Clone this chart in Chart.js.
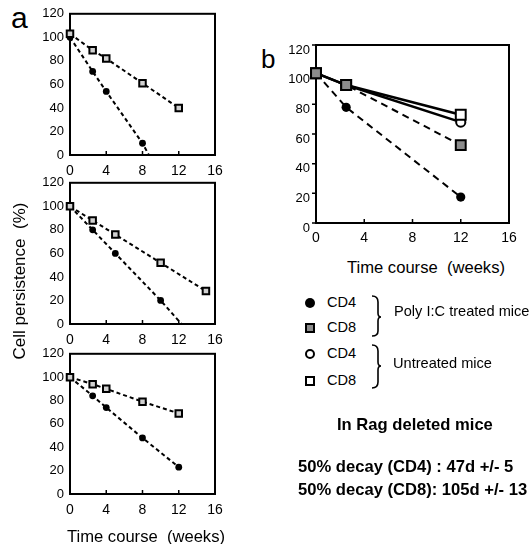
<!DOCTYPE html>
<html>
<head>
<meta charset="utf-8">
<script src="https://cdn.jsdelivr.net/npm/chart.js@4.4.1/dist/chart.umd.min.js"></script>
<style>
  body { margin: 0; background: #fff; width: 532px; height: 544px; position: relative; overflow: hidden;
         font-family: "Liberation Sans", Arial, sans-serif; color: #000; }
  canvas { position: absolute; }
  .t { position: absolute; white-space: nowrap; line-height: 1.2; transform: translateY(-50%); }
  .mk { position: absolute; box-sizing: border-box; width: 10px; height: 10px; transform: translate(-50%, -50%); }
</style>
</head>
<body>
<canvas id="a1" width="202" height="180" style="left:30px;top:0px"></canvas>
<canvas id="a2" width="202" height="180" style="left:30px;top:169px"></canvas>
<canvas id="a3" width="202" height="180" style="left:30px;top:340px"></canvas>
<canvas id="b" width="252" height="225" style="left:280px;top:30px"></canvas>

<div style="position:absolute;left:11px;top:3px;font-size:30px;line-height:1">a</div>
<div style="position:absolute;left:261px;top:46px;font-size:26px;line-height:1">b</div>

<div class="t" style="left:20px;top:281px;font-size:17px;transform:translate(-50%,-50%) rotate(-90deg)">Cell persistence&nbsp; (%)</div>
<div class="t" style="left:67px;top:537px;font-size:16.6px">Time course&nbsp; (weeks)</div>
<div class="t" style="left:347px;top:268px;font-size:16.6px">Time course&nbsp; (weeks)</div>

<!-- legend -->
<div class="mk" style="left:310px;top:303px;border-radius:50%;background:#000"></div>
<div class="mk" style="left:310px;top:328px;background:#8c8c8c;border:2px solid #000"></div>
<div class="mk" style="left:310px;top:354px;border-radius:50%;background:#fff;border:2px solid #000"></div>
<div class="mk" style="left:310px;top:381px;background:#fff;border:2px solid #000"></div>
<div class="t" style="left:327px;top:303px;font-size:14.6px">CD4</div>
<div class="t" style="left:327px;top:328px;font-size:14.6px">CD8</div>
<div class="t" style="left:327px;top:354px;font-size:14.6px">CD4</div>
<div class="t" style="left:327px;top:381px;font-size:14.6px">CD8</div>
<svg style="position:absolute;left:0;top:0" width="532" height="544">
  <path d="M372,296 Q378,296 378,302 L378,313 Q378,317 381,317 Q378,317 378,321 L378,331 Q378,336 372,336" fill="none" stroke="#000" stroke-width="1.6"/>
  <path d="M372,345 Q378,345 378,351 L378,362 Q378,366 381,366 Q378,366 378,370 L378,382 Q378,388 372,388" fill="none" stroke="#000" stroke-width="1.6"/>
</svg>
<div class="t" style="left:394px;top:312px;font-size:14.6px">Poly I:C treated mice</div>
<div class="t" style="left:393px;top:364px;font-size:14.6px">Untreated mice</div>

<div class="t" style="left:337px;top:425px;font-size:16.6px;font-weight:bold">In Rag deleted mice</div>
<div class="t" style="left:298px;top:467px;font-size:16.6px;font-weight:bold">50% decay (CD4) : 47d +/- 5</div>
<div class="t" style="left:298px;top:490px;font-size:16.6px;font-weight:bold">50% decay (CD8): 105d +/- 13</div>

<script>
// panel a, top: weeks and % persistence
const weeksA1 = [0, 2.5, 4, 8, 12];
const cd8A1 = [103, 89, 82, 61, 40];
const cd4WeeksA1 = [0, 2.5, 4, 8, 8.7];
const cd4A1 = [100, 71, 54, 10, 0];

// panel a, middle
const weeksA2 = [0, 2.5, 5, 10, 15];
const cd8A2 = [100, 88, 76, 52, 28];
const cd4WeeksA2 = [0, 2.5, 5, 10, 12.3];
const cd4A2 = [100, 80, 60, 20, 0];

// panel a, bottom
const weeksA3 = [0, 2.5, 4, 8, 12];
const cd8A3 = [100, 94, 90, 79, 69];
const cd4A3 = [100, 84, 74, 48, 23];

// panel b
const weeksB = [0, 2.5, 12];
const polyCD4 = [101, 78, 17.5];
const polyCD8 = [101, 93, 52.5];
const untrCD4 = [101, 93, 68];
const untrCD8 = [101, 93, 73];

const xTicks = [0, 4, 8, 12, 16];
const yTicks = [0, 20, 40, 60, 80, 100, 120];

const pts = (xs, ys) => xs.map((x, i) => ({ x, y: ys[i] }));
const FONT = '"Liberation Sans", Arial, sans-serif';

const frame = {
  id: 'frame',
  beforeDatasetsDraw(chart, args, o) {
    const { ctx, chartArea: a, scales } = chart;
    ctx.save();
    ctx.strokeStyle = '#000';
    ctx.lineWidth = 2;
    ctx.strokeRect(a.left, a.top, a.right - a.left, a.bottom - a.top);
    ctx.lineWidth = 1.5;
    ctx.beginPath();
    xTicks.forEach(v => {
      const px = scales.x.getPixelForValue(v);
      ctx.moveTo(px, a.bottom);
      ctx.lineTo(px, a.bottom - 4);
    });
    if (o.yTicks) {
      yTicks.forEach(v => {
        const py = scales.y.getPixelForValue(v);
        ctx.moveTo(a.left, py);
        ctx.lineTo(a.left - 4, py);
      });
    }
    ctx.stroke();
    ctx.restore();
  }
};

function panel(id, datasets, lay) {
  return new Chart(document.getElementById(id), {
    type: 'line',
    data: { datasets },
    options: {
      responsive: false,
      animation: false,
      devicePixelRatio: 1,
      layout: { padding: { top: lay.top, right: lay.right, left: 0, bottom: 0 } },
      plugins: { legend: { display: false }, tooltip: { enabled: false }, frame: { yTicks: lay.yTicks } },
      scales: {
        x: {
          type: 'linear', min: 0, max: 16,
          grid: { display: false, drawTicks: false },
          border: { display: false },
          afterBuildTicks: s => { s.ticks = xTicks.map(v => ({ value: v })); },
          afterFit: s => { s.height = lay.xH; },
          ticks: { color: '#000', padding: lay.xPad, maxRotation: 0, font: { family: FONT, size: 14 } }
        },
        y: {
          type: 'linear', min: 0, max: 120,
          grid: { display: false, drawTicks: false },
          border: { display: false },
          afterBuildTicks: s => { s.ticks = yTicks.map(v => ({ value: v })); },
          afterFit: s => { s.width = lay.yW; },
          ticks: { color: '#000', padding: lay.yPad, labelOffset: lay.yOff || 0, font: { family: FONT, size: lay.ySize } }
        }
      }
    },
    plugins: [frame]
  });
}

function aSets(sqX, sqY, ciX, ciY) {
  const last = ciX.length - 1;
  return [
    { data: pts(sqX, sqY), borderColor: '#000', borderWidth: 2, borderDash: [4, 3], clip: false,
      pointStyle: 'rect', pointRadius: 4.6, pointBorderWidth: 2, pointBackgroundColor: '#d0d0d0', pointBorderColor: '#000' },
    { data: pts(ciX, ciY), borderColor: '#000', borderWidth: 2, borderDash: [4, 3], clip: false,
      pointStyle: 'circle', pointRadius: ciY.map((v, i) => (i === last && v === 0 ? 0 : 3.4)),
      pointBorderWidth: 0, pointBackgroundColor: '#000', pointBorderColor: '#000' }
  ];
}

const layA = { top: 12, right: 17, xH: 25, yW: 40, xPad: 8, yPad: 6, ySize: 13 };
panel('a1', aSets(weeksA1, cd8A1, cd4WeeksA1, cd4A1), layA);
panel('a2', aSets(weeksA2, cd8A2, cd4WeeksA2, cd4A2), layA);
panel('a3', aSets(weeksA3, cd8A3, weeksA3, cd4A3), Object.assign({}, layA, { xH: 26 }));

panel('b', [
  { data: pts(weeksB, polyCD8), borderColor: '#000', borderWidth: 2, borderDash: [7, 5], clip: false,
    pointStyle: 'rect', pointRadius: 7, pointBorderWidth: 2, pointBackgroundColor: '#8c8c8c', pointBorderColor: '#000' },
  { data: pts(weeksB, polyCD4), borderColor: '#000', borderWidth: 2, borderDash: [7, 5], clip: false,
    pointStyle: 'circle', pointRadius: 4.6, pointBorderWidth: 0, pointBackgroundColor: '#000' },
  { data: pts(weeksB, untrCD8), borderColor: '#000', borderWidth: 2.5, clip: false,
    pointStyle: 'rect', pointRadius: 7, pointBorderWidth: 2, pointBackgroundColor: '#fff', pointBorderColor: '#000' },
  { data: pts(weeksB, untrCD4), borderColor: '#000', borderWidth: 2.5, clip: false,
    pointStyle: 'circle', pointRadius: 4.6, pointBorderWidth: 2, pointBackgroundColor: '#fff', pointBorderColor: '#000' }
], { top: 15, right: 23, xH: 32, yW: 36, xPad: 7, yPad: 6, ySize: 13, yOff: 5, yTicks: true });
</script>
</body>
</html>
